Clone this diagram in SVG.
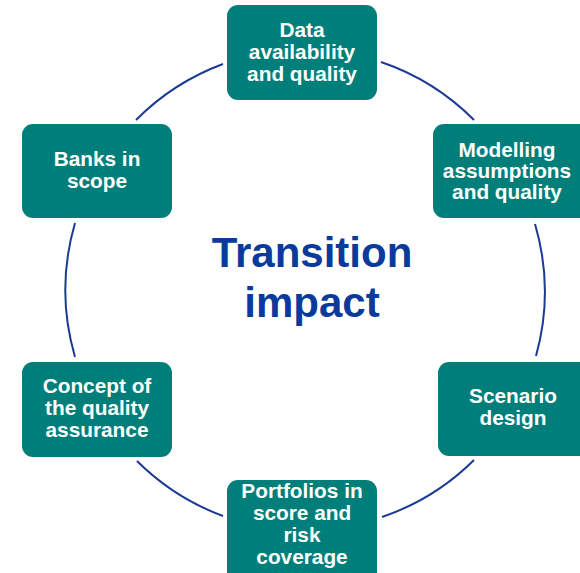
<svg xmlns="http://www.w3.org/2000/svg" width="580" height="573" viewBox="0 0 580 573">
<style>
.box{fill:#007f7a;}
.lbl{font-family:"Liberation Sans",Arial,sans-serif;font-weight:bold;font-size:20.8px;fill:#ffffff;text-anchor:middle;}
.arc{fill:none;stroke:#1a3a94;stroke-width:2;}
.title{font-family:"Liberation Sans",Arial,sans-serif;font-weight:bold;font-size:42px;fill:#0a3a9c;text-anchor:middle;}
</style>
<rect width="580" height="573" fill="#ffffff"/>
<g id="connectors">
<path class="arc" d="M381,62 A240,240 0 0 1 474,120"/>
<path class="arc" d="M535,224 A240,240 0 0 1 536,356"/>
<path class="arc" d="M474,460 A240,240 0 0 1 382,517"/>
<path class="arc" d="M223,516 A240,240 0 0 1 137,461"/>
<path class="arc" d="M75,357 A240,240 0 0 1 75,223"/>
<path class="arc" d="M136,120 A240,240 0 0 1 223,64"/>
</g>
<g id="center">
<text class="title" x="312" y="267">Transition</text>
<text class="title" x="312" y="317">impact</text>
</g>
<g id="data">
<rect class="box" x="227" y="5" width="150" height="95" rx="11"/>
<text class="lbl" x="302" y="37">Data</text>
<text class="lbl" x="302" y="59">availability</text>
<text class="lbl" x="302" y="81">and quality</text>
</g>
<g id="modelling">
<rect class="box" x="433" y="124" width="157" height="94" rx="11"/>
<text class="lbl" x="507" y="157">Modelling</text>
<text class="lbl" x="507" y="178">assumptions</text>
<text class="lbl" x="507" y="199">and quality</text>
</g>
<g id="scenario">
<rect class="box" x="438" y="362" width="152" height="94" rx="11"/>
<text class="lbl" x="513" y="403">Scenario</text>
<text class="lbl" x="513" y="425">design</text>
</g>
<g id="portfolios">
<rect class="box" x="227" y="480" width="150" height="105" rx="11"/>
<text class="lbl" x="302" y="498">Portfolios in</text>
<text class="lbl" x="302" y="520">score and</text>
<text class="lbl" x="302" y="542">risk</text>
<text class="lbl" x="302" y="564">coverage</text>
</g>
<g id="concept">
<rect class="box" x="22" y="362" width="150" height="95" rx="11"/>
<text class="lbl" x="97" y="393">Concept of</text>
<text class="lbl" x="97" y="415">the quality</text>
<text class="lbl" x="97" y="437">assurance</text>
</g>
<g id="banks">
<rect class="box" x="22" y="124" width="150" height="94" rx="11"/>
<text class="lbl" x="97" y="166">Banks in</text>
<text class="lbl" x="97" y="188">scope</text>
</g>
</svg>
